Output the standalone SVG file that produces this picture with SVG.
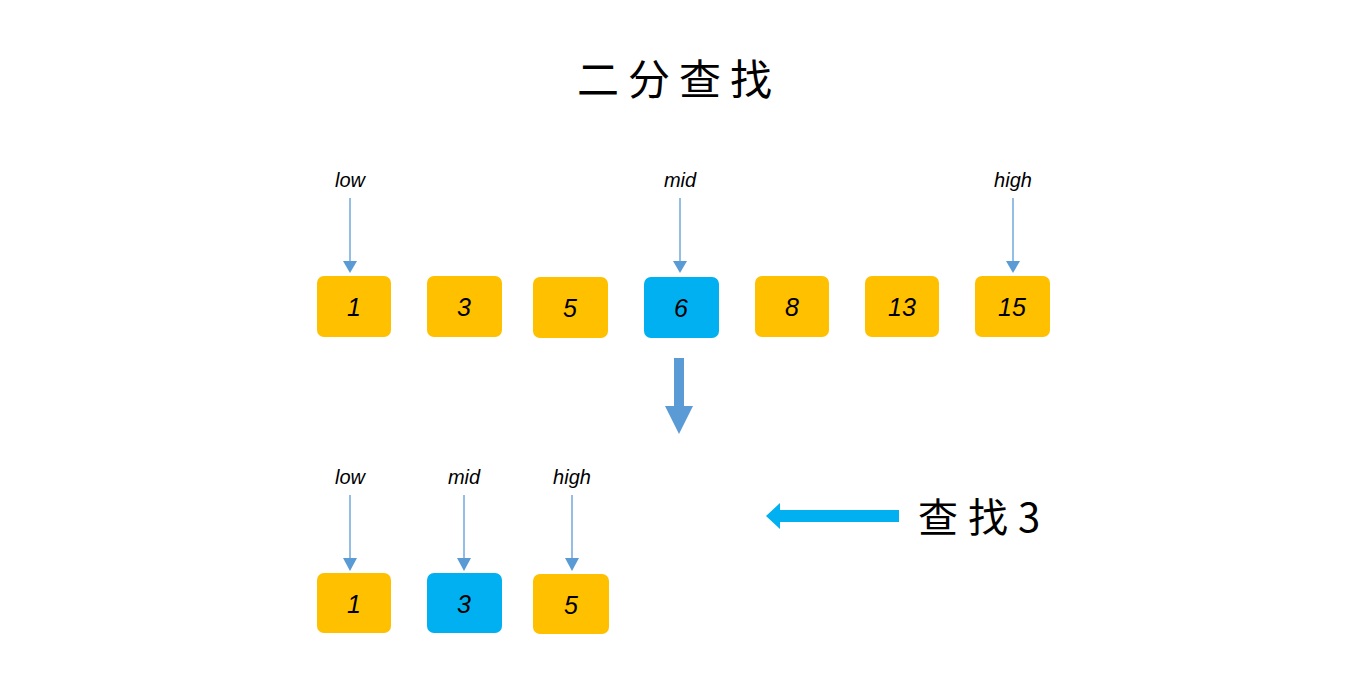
<svg xmlns="http://www.w3.org/2000/svg" width="1348" height="679" viewBox="0 0 1348 679">
<style>
.y{fill:#FFC000}
.b{fill:#00B0F0}
.n{font-family:"Liberation Sans","Noto Sans",sans-serif;font-size:25px;fill:#000;text-anchor:middle;font-style:italic}
.l{font-family:"Liberation Sans","Noto Sans",sans-serif;font-size:20px;fill:#000;text-anchor:middle;font-style:italic}
.t{font-family:"Noto Sans CJK SC",sans-serif;fill:#000}
.p{stroke:#5B9BD5;stroke-width:1.3;fill:none}
.h{fill:#5B9BD5}
</style>
<rect width="1348" height="679" fill="#fff"/>
<text class="t" x="679" y="95" font-size="42" text-anchor="middle" letter-spacing="9">二分查找</text>
<g id="labels">
<text class="l" x="350" y="187">low</text>
<text class="l" x="680" y="187">mid</text>
<text class="l" x="1013" y="187">high</text>
<text class="l" x="350" y="484">low</text>
<text class="l" x="464" y="484">mid</text>
<text class="l" x="572" y="484">high</text>
</g>
<g id="n1"><rect class="y" x="317" y="276" width="74" height="61" rx="7"/><text class="n" x="354" y="316">1</text></g>
<g id="n3"><rect class="y" x="427" y="276" width="75" height="61" rx="7"/><text class="n" x="464" y="316">3</text></g>
<g id="n5"><rect class="y" x="533" y="277" width="75" height="61" rx="7"/><text class="n" x="570" y="317">5</text></g>
<g id="n6"><rect class="b" x="644" y="277" width="75" height="61" rx="7"/><text class="n" x="681" y="317">6</text></g>
<g id="n8"><rect class="y" x="755" y="276" width="74" height="61" rx="7"/><text class="n" x="792" y="316">8</text></g>
<g id="n13"><rect class="y" x="865" y="276" width="74" height="61" rx="7"/><text class="n" x="902" y="316">13</text></g>
<g id="n15"><rect class="y" x="975" y="276" width="75" height="61" rx="7"/><text class="n" x="1012" y="316">15</text></g>
<g id="m1"><rect class="y" x="317" y="573" width="74" height="60" rx="7"/><text class="n" x="354" y="613">1</text></g>
<g id="m3"><rect class="b" x="427" y="573" width="75" height="60" rx="7"/><text class="n" x="464" y="613">3</text></g>
<g id="m5"><rect class="y" x="533" y="574" width="76" height="60" rx="7"/><text class="n" x="571" y="614">5</text></g>
<text class="t" x="918" y="532" font-size="40" letter-spacing="10">查找3</text>
<g id="connectors">
<line class="p" x1="350" y1="198" x2="350" y2="262"/><polygon class="h" points="343,261 357,261 350,273"/>
<line class="p" x1="680" y1="198" x2="680" y2="262"/><polygon class="h" points="673,261 687,261 680,273"/>
<line class="p" x1="1013" y1="198" x2="1013" y2="262"/><polygon class="h" points="1006,261 1020,261 1013,273"/>
<line class="p" x1="350" y1="495" x2="350" y2="560"/><polygon class="h" points="343,558 357,558 350,571"/>
<line class="p" x1="464" y1="495" x2="464" y2="560"/><polygon class="h" points="457,558 471,558 464,571"/>
<line class="p" x1="572" y1="495" x2="572" y2="560"/><polygon class="h" points="565,558 579,558 572,571"/>
<polygon class="h" points="674,358 684,358 684,406 693,406 679,434 665,406 674,406"/>
<polygon fill="#00B0F0" points="899,510 780,510 780,503 766,516 780,529 780,522 899,522"/>
</g>
</svg>
